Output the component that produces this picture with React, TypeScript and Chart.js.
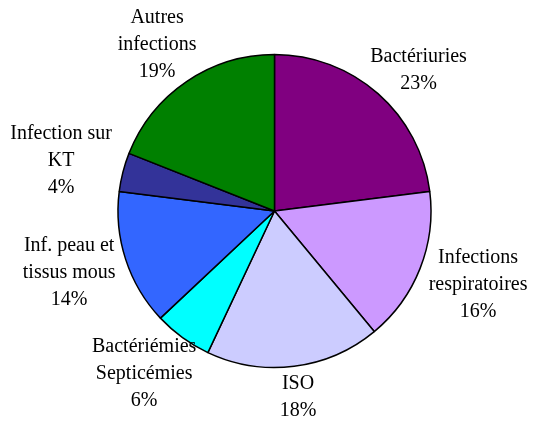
import React, { useEffect, useRef } from 'react';
import { Chart, registerables } from 'chart.js';

Chart.register(...registerables);

// Category names, split into the lines shown on the chart
const categories: string[][] = [
  ['Bactériuries'],
  ['Infections', 'respiratoires'],
  ['ISO'],
  ['Bactériémies', 'Septicémies'],
  ['Inf. peau et', 'tissus mous'],
  ['Infection sur', 'KT'],
  ['Autres', 'infections'],
];

// Share of each category (%)
const shares: number[] = [23, 16, 18, 6, 14, 4, 19];

const sliceColors: string[] = ['#800080', '#CC99FF', '#CCCCFF', '#00FFFF', '#3366FF', '#333399', '#008000'];

const LABEL_FONT = '20px "Liberation Serif", "Times New Roman", serif';
const LINE_H = 27;
const LABEL_GAP_X = 13;
const LABEL_GAP_Y = 4;

const outsideLabels = {
  id: 'outsideLabels',
  afterDatasetsDraw(chart: any) {
    const ctx: CanvasRenderingContext2D = chart.ctx;
    const meta = chart.getDatasetMeta(0);
    const data = chart.data.datasets[0].data as number[];
    const total = data.reduce((a: number, b: number) => a + b, 0);
    ctx.save();
    ctx.font = LABEL_FONT;
    ctx.fillStyle = '#000000';
    ctx.textAlign = 'center';
    ctx.textBaseline = 'middle';
    meta.data.forEach((arc: any, i: number) => {
      const { x, y, startAngle, endAngle, outerRadius } = arc.getProps(
        ['x', 'y', 'startAngle', 'endAngle', 'outerRadius'],
        true
      );
      const mid = (startAngle + endAngle) / 2;
      const dx = Math.cos(mid);
      const dy = Math.sin(mid);
      const lines: string[] = [
        ...(chart.data.labels[i] as string[]),
        Math.round((data[i] / total) * 100) + '%',
      ];
      const w = Math.max(...lines.map((l) => ctx.measureText(l).width));
      const h = lines.length * LINE_H;
      const ax = x + dx * (outerRadius + LABEL_GAP_X);
      const ay = y + dy * (outerRadius + LABEL_GAP_Y);
      const cx = ax + (dx * w) / 2;
      const cy = ay + (dy * h) / 2;
      lines.forEach((l, k) => {
        ctx.fillText(l, cx, cy - h / 2 + LINE_H * (k + 0.5));
      });
    });
    ctx.restore();
  },
};

export default function App() {
  const canvasRef = useRef<HTMLCanvasElement | null>(null);

  useEffect(() => {
    if (!canvasRef.current) return;
    const chart = new Chart(canvasRef.current, {
      type: 'pie',
      data: {
        labels: categories,
        datasets: [
          {
            data: shares,
            backgroundColor: sliceColors,
            borderColor: '#000000',
            borderWidth: 1.5,
          },
        ],
      },
      options: {
        responsive: false,
        animation: false,
        devicePixelRatio: 1,
        radius: 156.5,
        layout: { padding: { left: 9, right: 0, top: 0, bottom: 3 } },
        plugins: {
          legend: { display: false },
          tooltip: { enabled: false },
        },
      } as any,
      plugins: [outsideLabels],
    });
    return () => chart.destroy();
  }, []);

  return (
    <div style={{ position: 'absolute', left: 0, top: 0, width: 540, height: 425, background: '#ffffff' }}>
      <canvas ref={canvasRef} width={540} height={425} style={{ display: 'block' }} />
    </div>
  );
}
